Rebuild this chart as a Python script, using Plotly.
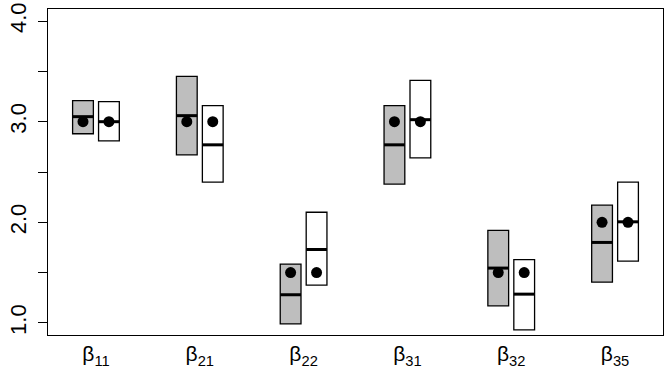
import plotly.graph_objects as go

categories = ["β<sub>11</sub>", "β<sub>21</sub>", "β<sub>22</sub>", "β<sub>31</sub>", "β<sub>32</sub>", "β<sub>35</sub>"]
true_values = [3.0, 3.0, 1.5, 3.0, 1.5, 2.0]

grey_low = [2.88, 2.67, 0.99, 2.38, 1.17, 1.405]
grey_high = [3.21, 3.45, 1.585, 3.16, 1.92, 2.17]
grey_mid = [3.05, 3.06, 1.28, 2.77, 1.545, 1.80]

white_low = [2.81, 2.40, 1.375, 2.64, 0.93, 1.615]
white_high = [3.20, 3.16, 2.10, 3.41, 1.63, 2.40]
white_mid = [3.00, 2.77, 1.73, 3.02, 1.286, 2.005]

ytick_vals = [1.0, 1.5, 2.0, 2.5, 3.0, 3.5, 4.0]
ytick_text = ["1.0", "", "2.0", "", "3.0", "", "4.0"]

pos = list(range(1, len(categories) + 1))
off = 0.125
bw = 0.2

fig = go.Figure()


def add_group(xs, low, high, mid, color):
    fig.add_trace(go.Bar(
        x=xs, y=[h - l for h, l in zip(high, low)], base=low, width=bw,
        marker=dict(color=color, line=dict(color="black", width=1.3)),
        showlegend=False, hoverinfo="skip"))
    mx, my = [], []
    for x, m in zip(xs, mid):
        mx += [x - bw / 2, x + bw / 2, None]
        my += [m, m, None]
    fig.add_trace(go.Scatter(x=mx, y=my, mode="lines",
                             line=dict(color="black", width=3),
                             showlegend=False, hoverinfo="skip"))


gx = [p - off for p in pos]
wx = [p + off for p in pos]
add_group(gx, grey_low, grey_high, grey_mid, "#BEBEBE")
add_group(wx, white_low, white_high, white_mid, "white")

fig.add_trace(go.Scatter(x=gx + wx, y=true_values + true_values, mode="markers",
                         marker=dict(color="black", size=11),
                         showlegend=False, hoverinfo="skip"))

fig.update_layout(
    width=672, height=383,
    margin=dict(l=48, r=9, t=9, b=48),
    plot_bgcolor="white", paper_bgcolor="white",
    barmode="overlay",
    font=dict(family="Liberation Sans, Arial, sans-serif", color="black"),
)
fig.update_xaxes(
    range=[0.538, 6.462], tickvals=pos, ticktext=categories,
    ticks="", showgrid=False, zeroline=False, automargin=False,
    showline=True, linecolor="black", linewidth=1.3, mirror=True,
    tickfont=dict(size=21), ticklabelstandoff=0,
)
fig.update_yaxes(
    range=[0.88, 4.12], tickvals=ytick_vals, ticktext=ytick_text,
    ticks="outside", ticklen=9, tickwidth=1.3, tickcolor="black",
    tickangle=-90, showgrid=False, zeroline=False, automargin=False,
    showline=True, linecolor="black", linewidth=1.3, mirror=True,
    tickfont=dict(size=22), ticklabelstandoff=3, ticklabeloverflow="allow",
)

fig.write_html("out.html", config={"displayModeBar": False},
               post_script="document.body.style.margin='0';")
